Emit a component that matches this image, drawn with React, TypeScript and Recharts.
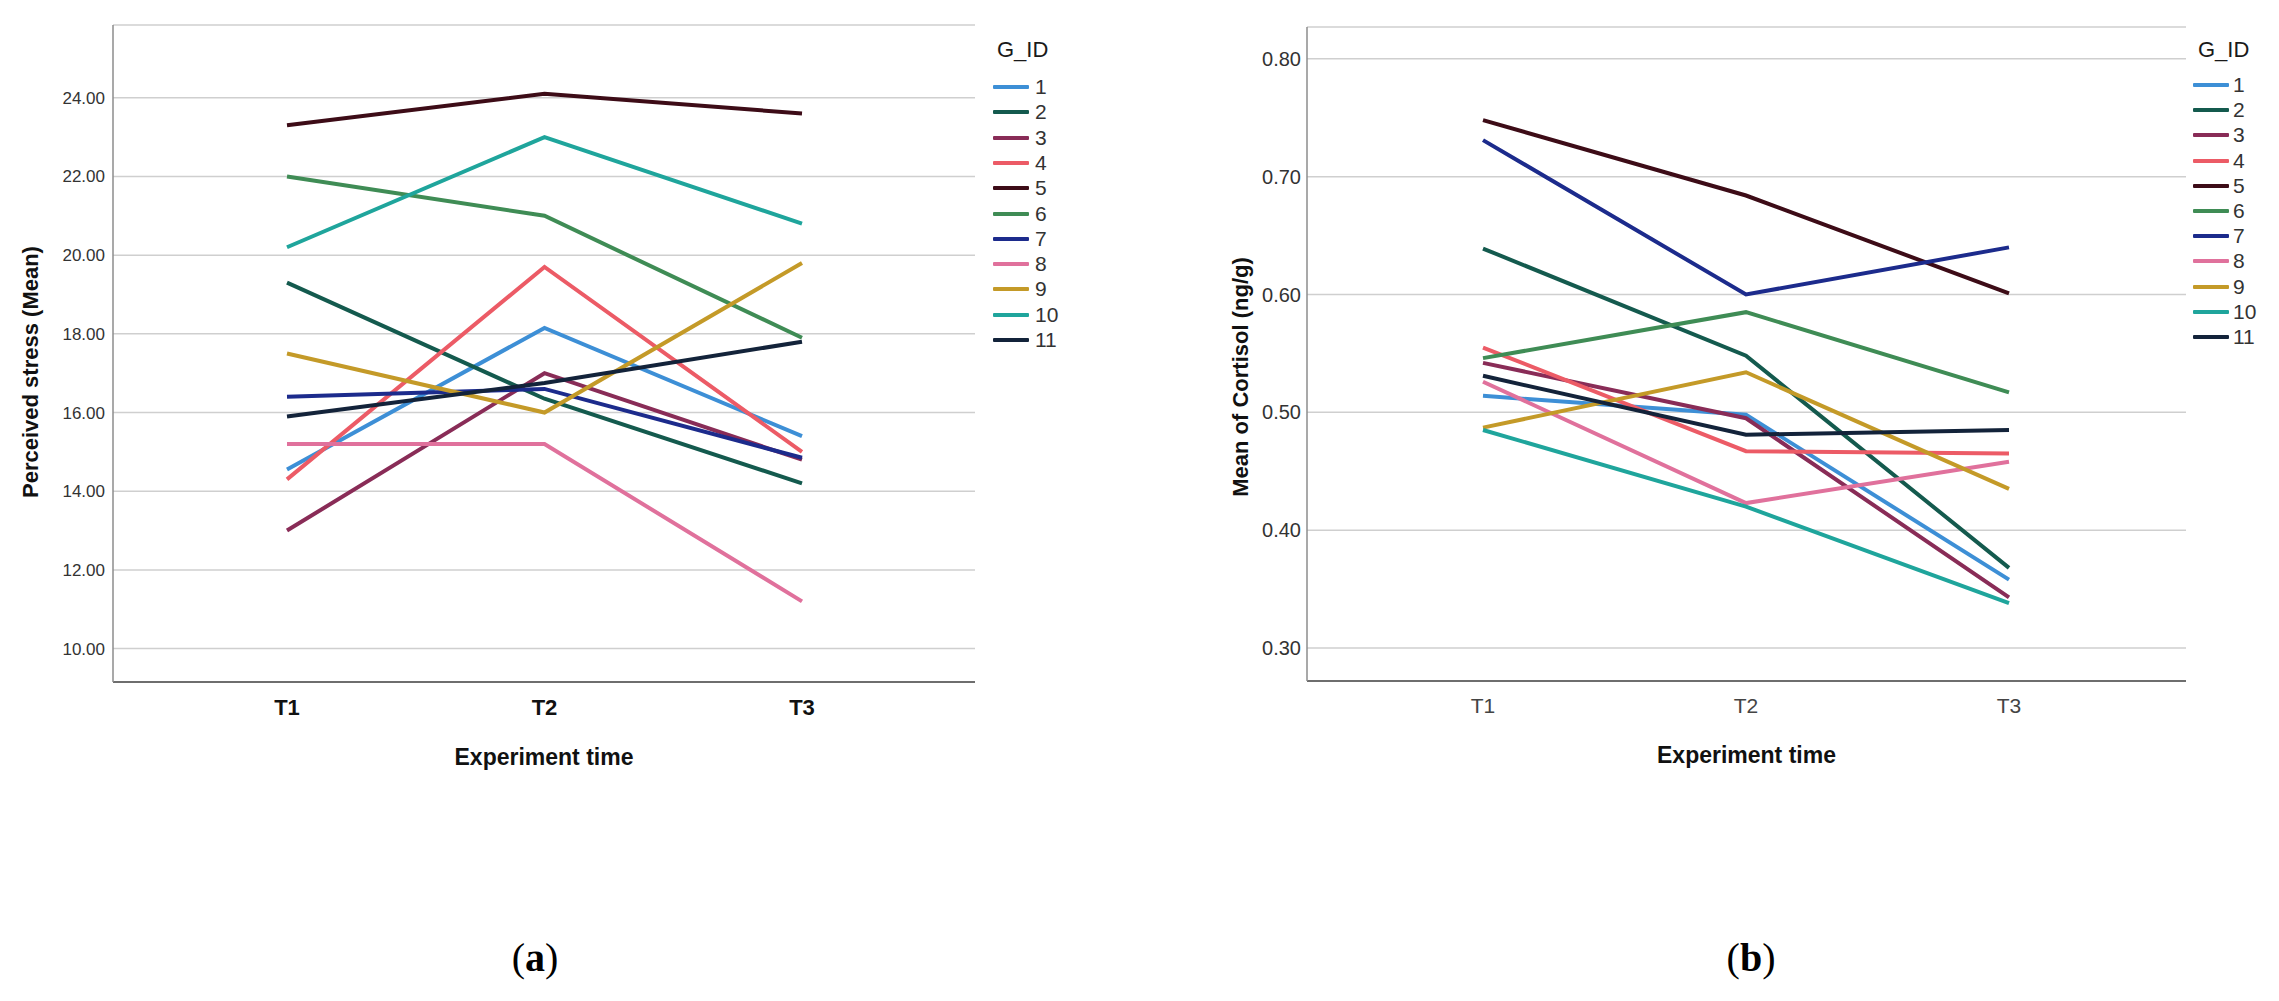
import React from 'react';
import { LineChart, Line, XAxis, YAxis, CartesianGrid, Legend, Label } from 'recharts';

const FONT = '"Liberation Sans", Arial, Helvetica, sans-serif';

const times = ['T1', 'T2', 'T3'];
const groupIds = ['1', '2', '3', '4', '5', '6', '7', '8', '9', '10', '11'];
const groupColors = [
  '#3d8fd6', '#145a4e', '#892c57', '#ec5b66', '#3d0c17', '#3f8c55',
  '#1c2b8c', '#e0719c', '#c49a28', '#1fa59c', '#13233a',
];

// Perceived stress (Mean) per group at each time
const stressT1 = [14.55, 19.3, 13.0, 14.3, 23.3, 22.0, 16.4, 15.2, 17.5, 20.2, 15.9];
const stressT2 = [18.15, 16.35, 17.0, 19.7, 24.1, 21.0, 16.6, 15.2, 16.0, 23.0, 16.75];
const stressT3 = [15.4, 14.2, 14.8, 15.0, 23.6, 17.9, 14.85, 11.2, 19.8, 20.8, 17.8];
const stressTicks = [10, 12, 14, 16, 18, 20, 22, 24];

// Mean of Cortisol (ng/g) per group at each time
const cortisolT1 = [0.514, 0.639, 0.542, 0.555, 0.748, 0.546, 0.731, 0.526, 0.487, 0.485, 0.531];
const cortisolT2 = [0.498, 0.548, 0.495, 0.467, 0.684, 0.585, 0.6, 0.423, 0.534, 0.42, 0.481];
const cortisolT3 = [0.358, 0.368, 0.343, 0.465, 0.601, 0.517, 0.64, 0.458, 0.435, 0.338, 0.485];
const cortisolTicks = [0.3, 0.4, 0.5, 0.6, 0.7, 0.8];

function buildRows(t1: number[], t2: number[], t3: number[]) {
  const cols = [t1, t2, t3];
  return times.map((time, i) => {
    const row: Record<string, any> = { time };
    groupIds.forEach((g, j) => {
      row['g' + g] = cols[i][j];
    });
    return row;
  });
}

const stressRows = buildRows(stressT1, stressT2, stressT3);
const cortisolRows = buildRows(cortisolT1, cortisolT2, cortisolT3);

function makeLegend(titleLeft: number, firstRow: number, rowGap: number, labelLeft: number) {
  return (props: any) => {
    const raw: any[] =
      props && props.payload && props.payload.length
        ? props.payload.slice()
        : groupIds.map((g, i) => ({ value: g, color: groupColors[i] }));
    const payload = raw.sort((a, b) => Number(a.value) - Number(b.value));
    return (
      <div style={{ position: 'relative', width: 90, height: 360, fontFamily: FONT }}>
        <div
          style={{
            position: 'absolute',
            left: titleLeft,
            top: 50 - 13,
            height: 26,
            lineHeight: '26px',
            fontSize: 22,
            color: '#1a1a1a',
            whiteSpace: 'nowrap',
          }}
        >
          G_ID
        </div>
        {payload.map((p, i) => (
          <div
            key={p.value}
            style={{
              position: 'absolute',
              left: 0,
              top: firstRow + i * rowGap - 12,
              height: 24,
              width: 90,
            }}
          >
            <div
              style={{
                position: 'absolute',
                left: 0,
                top: 10,
                width: 36,
                height: 4,
                background: p.color,
                borderRadius: 1,
              }}
            />
            <div
              style={{
                position: 'absolute',
                left: labelLeft,
                top: 0,
                height: 24,
                lineHeight: '24px',
                fontSize: 21,
                color: '#333',
              }}
            >
              {p.value}
            </div>
          </div>
        ))}
      </div>
    );
  };
}

const yLabel = (text: string, cx: number, cy: number) => () => (
  <text
    x={cx}
    y={cy}
    transform={`rotate(-90 ${cx} ${cy})`}
    textAnchor="middle"
    dominantBaseline="central"
    fontFamily={FONT}
    fontWeight="bold"
    fontSize={22}
    fill="#111"
  >
    {text}
  </text>
);

const xLabel = (cx: number, baseline: number) => () => (
  <text
    x={cx}
    y={baseline}
    textAnchor="middle"
    fontFamily={FONT}
    fontWeight="bold"
    fontSize={23}
    fill="#111"
  >
    Experiment time
  </text>
);

function Caption({ letter, cx }: { letter: string; cx: number }) {
  return (
    <div
      style={{
        position: 'absolute',
        left: cx - 100,
        top: 958 - 24,
        width: 200,
        height: 48,
        lineHeight: '48px',
        textAlign: 'center',
        fontFamily: '"Liberation Serif", "Times New Roman", serif',
        fontSize: 40,
        color: '#000',
      }}
    >
      (<b>{letter}</b>)
    </div>
  );
}

export default function App() {
  return (
    <div
      style={{
        position: 'absolute',
        left: 0,
        top: 0,
        width: 2279,
        height: 1001,
        background: '#fff',
        overflow: 'hidden',
      }}
    >
      <div style={{ position: 'absolute', left: 0, top: 0 }}>
        <LineChart
          width={1150}
          height={1001}
          data={stressRows}
          margin={{ top: 25, left: 0, right: 175, bottom: 289 }}
        >
          <CartesianGrid vertical={false} stroke="#cfcfcf" strokeWidth={1.5} />
          <XAxis
            dataKey="time"
            height={30}
            padding={{ left: 174, right: 173 }}
            tickLine={false}
            axisLine={{ stroke: '#6e6e6e', strokeWidth: 2 }}
            tickMargin={11}
            tick={{ fontFamily: FONT, fontSize: 22, fontWeight: 'bold', fill: '#111' }}
            interval={0}
          >
            <Label content={xLabel(544, 765)} />
          </XAxis>
          <YAxis
            type="number"
            domain={[9.15, 25.85]}
            ticks={stressTicks}
            interval={0}
            allowDataOverflow
            tickLine={false}
            axisLine={{ stroke: '#8c8c8c', strokeWidth: 1.5 }}
            tickFormatter={(v: number) => v.toFixed(2)}
            tick={{ fontFamily: FONT, fontSize: 17, fill: '#333' }}
            width={113}
          >
            <Label content={yLabel('Perceived stress (Mean)', 30, 372)} />
          </YAxis>
          <Legend
            layout="vertical"
            align="center"
            verticalAlign="middle"
            wrapperStyle={{ left: 993, top: 0, width: 90, height: 360 }}
            content={makeLegend(4, 87, 25.3, 42)}
          />
          {groupIds.map((g, i) => (
            <Line
              key={g}
              type="linear"
              dataKey={'g' + g}
              name={g}
              stroke={groupColors[i]}
              strokeWidth={4}
              dot={false}
              activeDot={false}
              isAnimationActive={false}
            />
          ))}
        </LineChart>
      </div>

      <div style={{ position: 'absolute', left: 1150, top: 0 }}>
        <LineChart
          width={1129}
          height={1001}
          data={cortisolRows}
          margin={{ top: 27, left: 0, right: 93, bottom: 290 }}
        >
          <CartesianGrid vertical={false} stroke="#cfcfcf" strokeWidth={1.5} />
          <XAxis
            dataKey="time"
            height={30}
            padding={{ left: 176, right: 177 }}
            tickLine={false}
            axisLine={{ stroke: '#6e6e6e', strokeWidth: 2 }}
            tickMargin={11}
            tick={{ fontFamily: FONT, fontSize: 21, fill: '#444' }}
            interval={0}
          >
            <Label content={xLabel(596.5, 763)} />
          </XAxis>
          <YAxis
            type="number"
            domain={[0.272, 0.827]}
            ticks={cortisolTicks}
            interval={0}
            allowDataOverflow
            tickLine={false}
            tickMargin={0}
            axisLine={{ stroke: '#8c8c8c', strokeWidth: 1.5 }}
            tickFormatter={(v: number) => v.toFixed(2)}
            tick={{ fontFamily: FONT, fontSize: 20, fill: '#333' }}
            width={157}
          >
            <Label content={yLabel('Mean of Cortisol (ng/g)', 90, 377)} />
          </YAxis>
          <Legend
            layout="vertical"
            align="center"
            verticalAlign="middle"
            wrapperStyle={{ left: 1043, top: 0, width: 90, height: 360 }}
            content={makeLegend(5, 85, 25.2, 40)}
          />
          {groupIds.map((g, i) => (
            <Line
              key={g}
              type="linear"
              dataKey={'g' + g}
              name={g}
              stroke={groupColors[i]}
              strokeWidth={4}
              dot={false}
              activeDot={false}
              isAnimationActive={false}
            />
          ))}
        </LineChart>
      </div>

      <Caption letter="a" cx={535} />
      <Caption letter="b" cx={1751} />
    </div>
  );
}
